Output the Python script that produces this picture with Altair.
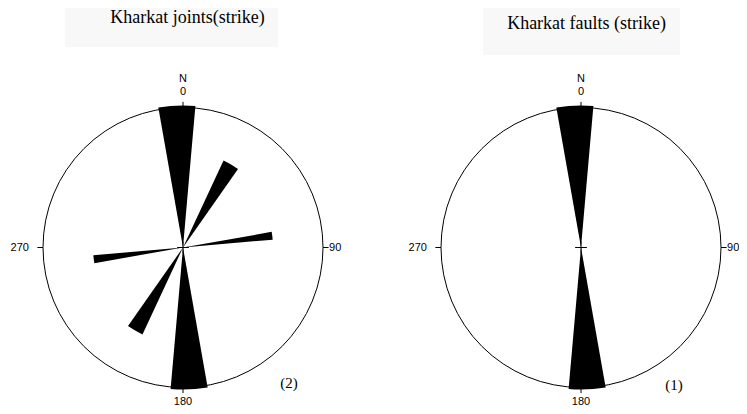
import math
import altair as alt
import pandas as pd

# ---------------- data ----------------
titles = ["Kharkat joints(strike)", "Kharkat faults (strike)"]
tags = ["(2)", "(1)"]

# joints rose: petal start/end azimuth (deg) and relative length
joint_start = [350, 170, 25, 205, 80, 260]
joint_end = [365, 185, 35, 215, 85, 265]
joint_len = [1.015, 1.015, 0.685, 0.685, 0.643, 0.643]

# faults rose
fault_start = [350, 170]
fault_end = [365, 185]
fault_len = [1.015, 1.015]

compass_deg = [0, 90, 180, 270]
compass_lbl = ["0", "90", "180", "270"]

# ---------------- layout (units = circle radius) ----------------
R_PX = 140
W, H = 731, 398
CX = [0.0, 398 / R_PX]
X0 = -175 / R_PX
Y_TOP = 239.5 / R_PX
LABEL_R = [1.111, 1.087, 1.1, 1.166]
N_R = 1.204
TICK_IN, TICK_OUT = 1.0, 1.04
CROSS = 0.042
TITLE_POS = [(0.032, 1.639), (0.04, 1.596)]
BOX = [(-0.843, 0.679, 1.80, 1.432), (-0.70, 0.707, 1.80, 1.375)]
TAG_POS = [(0.757, -0.966), (0.664, -0.982)]

# ---------------- tables ----------------
petals = []
for cx, st, en, ln in [(CX[0], joint_start, joint_end, joint_len),
                       (CX[1], fault_start, fault_end, fault_len)]:
    for s, e, l in zip(st, en, ln):
        petals.append({"cx": cx, "cy": 0.0, "t0": s, "t1": e, "r": l})
petal_df = pd.DataFrame(petals)

circ_df = pd.DataFrame({"cx": CX, "cy": [0.0, 0.0], "t0": [0, 0], "t1": [360, 360], "r": [1.0, 1.0]})

rules = []
for cx in CX:
    for d in compass_deg:
        a = math.radians(d)
        rules.append({"x": cx + TICK_IN * math.sin(a), "y": TICK_IN * math.cos(a),
                      "x2": cx + TICK_OUT * math.sin(a), "y2": TICK_OUT * math.cos(a)})
    rules.append({"x": cx - CROSS, "y": 0.0, "x2": cx + CROSS, "y2": 0.0})
    rules.append({"x": cx, "y": -CROSS, "x2": cx, "y2": CROSS})
rule_df = pd.DataFrame(rules)

labels = []
for cx in CX:
    for d, t, r in zip(compass_deg, compass_lbl, LABEL_R):
        a = math.radians(d)
        labels.append({"x": cx + r * math.sin(a), "y": r * math.cos(a), "t": t})
    labels.append({"x": cx, "y": N_R, "t": "N"})
label_df = pd.DataFrame(labels)

title_df = pd.DataFrame({"x": [CX[i] + TITLE_POS[i][0] for i in range(2)],
                         "y": [TITLE_POS[i][1] for i in range(2)], "t": titles})
tag_df = pd.DataFrame({"x": [CX[i] + TAG_POS[i][0] for i in range(2)],
                       "y": [TAG_POS[i][1] for i in range(2)], "t": tags})
box_df = pd.DataFrame({"x": [CX[i] + BOX[i][0] for i in range(2)],
                       "x2": [CX[i] + BOX[i][1] for i in range(2)],
                       "y": [BOX[i][2] for i in range(2)],
                       "y2": [BOX[i][3] for i in range(2)]})

# ---------------- scales ----------------
xs = alt.Scale(domain=[X0, X0 + W / R_PX], nice=False, zero=False)
ys = alt.Scale(domain=[Y_TOP - H / R_PX, Y_TOP], nice=False, zero=False)
ths = alt.Scale(domain=[0, 360], range=[0, 2 * math.pi])
rs = alt.Scale(type="linear", domain=[0, 1], range=[0, R_PX], zero=True, nice=False)

boxes = alt.Chart(box_df).mark_rect(color="#f8f8f8").encode(
    x=alt.X("x:Q", scale=xs, axis=None), x2="x2:Q",
    y=alt.Y("y:Q", scale=ys, axis=None), y2="y2:Q")

circle = alt.Chart(circ_df).mark_arc(fill="white", stroke="black", strokeWidth=1).encode(
    x=alt.X("cx:Q", scale=xs, axis=None), y=alt.Y("cy:Q", scale=ys, axis=None),
    theta=alt.Theta("t0:Q", scale=ths, stack=False), theta2="t1:Q",
    radius=alt.Radius("r:Q", scale=rs))

petal = alt.Chart(petal_df).mark_arc(fill="black", strokeWidth=0).encode(
    x=alt.X("cx:Q", scale=xs, axis=None), y=alt.Y("cy:Q", scale=ys, axis=None),
    theta=alt.Theta("t0:Q", scale=ths, stack=False), theta2="t1:Q",
    radius=alt.Radius("r:Q", scale=rs))

rule = alt.Chart(rule_df).mark_rule(color="black", strokeWidth=1).encode(
    x=alt.X("x:Q", scale=xs, axis=None), y=alt.Y("y:Q", scale=ys, axis=None),
    x2="x2:Q", y2="y2:Q")

lab = alt.Chart(label_df).mark_text(font="Liberation Sans", fontSize=11, color="black",
                                     baseline="middle", align="center").encode(
    x=alt.X("x:Q", scale=xs, axis=None), y=alt.Y("y:Q", scale=ys, axis=None), text="t:N")

ttl = alt.Chart(title_df).mark_text(font="Liberation Serif", fontSize=18, color="black",
                                     baseline="middle", align="center").encode(
    x=alt.X("x:Q", scale=xs, axis=None), y=alt.Y("y:Q", scale=ys, axis=None), text="t:N")

tag = alt.Chart(tag_df).mark_text(font="Liberation Serif", fontSize=15, color="black",
                                   baseline="middle", align="center").encode(
    x=alt.X("x:Q", scale=xs, axis=None), y=alt.Y("y:Q", scale=ys, axis=None), text="t:N")

chart = alt.layer(boxes, circle, petal, rule, lab, ttl, tag).properties(
    width=W, height=H, padding=0, autosize=alt.AutoSizeParams(type="none")
).configure(background="white", view=alt.ViewConfig(stroke=None))

chart.save("out.html", embed_options={"renderer": "svg", "actions": False})
